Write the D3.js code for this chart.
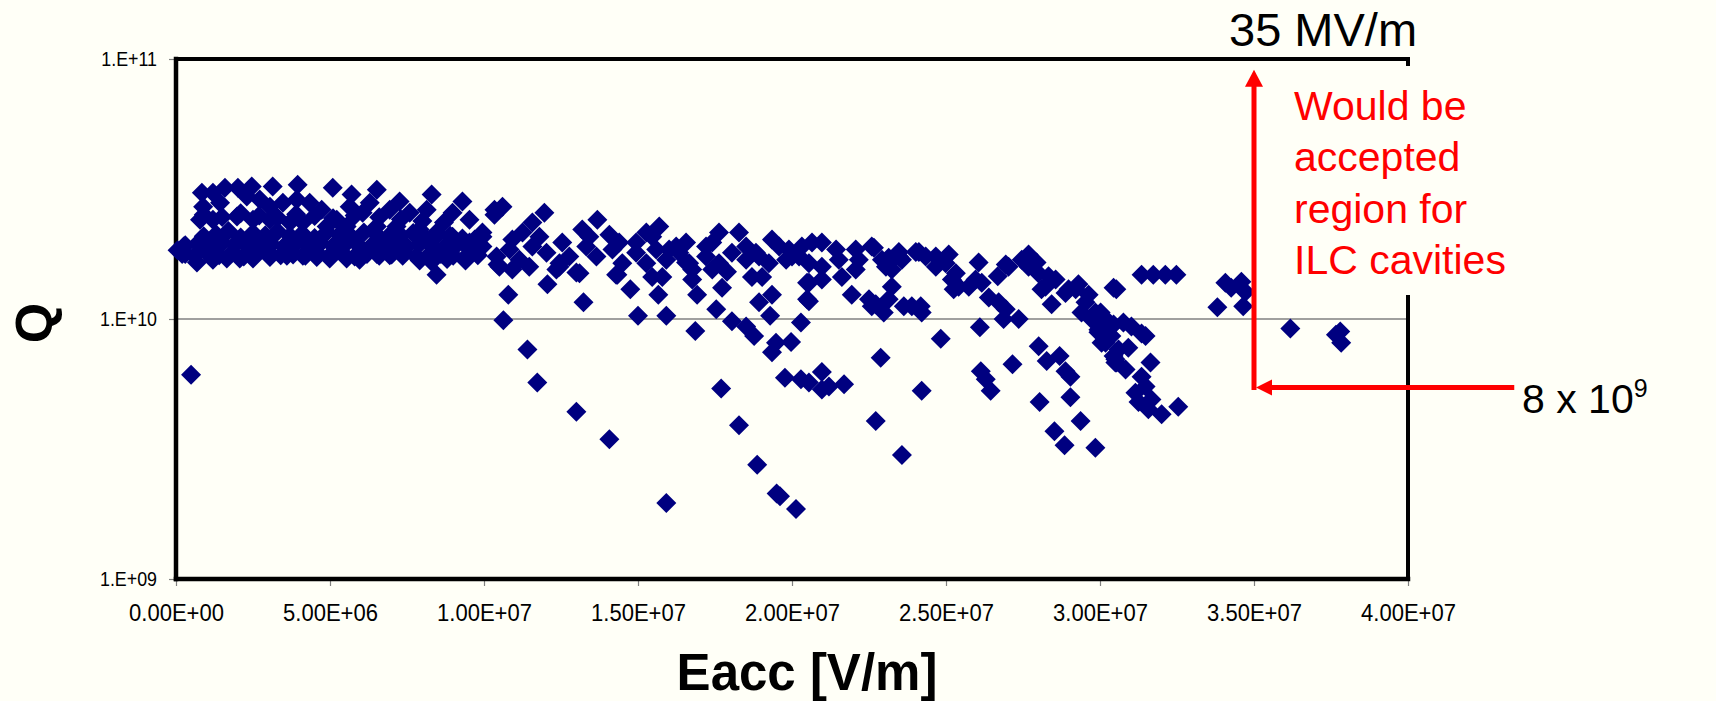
<!DOCTYPE html>
<html><head><meta charset="utf-8">
<script src="https://cdn.jsdelivr.net/npm/d3@7"></script>
<style>html,body{margin:0;padding:0;background:#fffff7;}svg{display:block;}</style>
</head><body>
<svg id="chart" width="1716" height="701"></svg>
<script>
// ---------- DATA ----------
// Axis ticks
const xTicks = [0, 5e6, 1e7, 1.5e7, 2e7, 2.5e7, 3e7, 3.5e7, 4e7];
const xTickLabels = ["0.00E+00","5.00E+06","1.00E+07","1.50E+07","2.00E+07","2.50E+07","3.00E+07","3.50E+07","4.00E+07"];
const yTicks = [1e9, 1e10, 1e11];
const yTickLabels = ["1.E+09","1.E+10","1.E+11"];

// Measured points: [Eacc in MV/m, Q in units of 1e10]
const fieldBelow10 = [
 [0.05,1.84],[0.25,1.90],[0.3,1.78],[0.49,0.61],
 [0.84,3.06],[1.20,3.06],[1.59,3.20],[2.01,3.20],[2.46,3.23],[3.14,3.23],[3.95,3.28],[5.09,3.20],[5.70,3.01],[6.52,3.14],[7.26,2.83],[8.30,3.01],[9.30,2.83],[10.34,2.63],
 [0.88,2.70],[1.43,2.80],[2.30,2.96],[2.72,2.88],[3.05,2.70],[3.47,2.80],[3.92,2.88],[4.34,2.80],[4.73,2.63],[5.22,2.41],[5.64,2.70],[6.06,2.56],[6.29,2.80],[6.94,2.63],[7.59,2.56],[8.14,2.63],[8.98,2.56],[9.53,2.41],[9.95,2.15],
 [0.78,2.41],[1.20,2.41],[1.98,2.48],[2.50,2.41],[3.05,2.41],[3.70,2.35],[4.12,2.35],[4.89,2.27],[5.54,2.27],[6.52,2.27],[7.16,2.27],[7.91,2.21],[8.46,2.15],[8.98,2.07],[9.53,1.97],
 [0.9,2.52],[1.5,2.47],[2.1,2.55],[2.7,2.50],[3.3,2.45],[3.9,2.53],[4.5,2.49],[5.1,2.44],[5.8,2.50],[6.6,2.46],[7.3,2.42],[8.0,2.38],[8.7,2.35],
 [0.9,2.08],[1.3,2.12],[1.7,2.18],[2.1,2.06],[2.5,2.14],[2.9,2.10],[3.3,2.17],[3.7,2.09],[4.1,2.13],[4.5,2.05],[4.9,2.16],[5.3,2.11],[5.7,2.07],[6.1,2.15],[6.5,2.12],[6.9,2.08],[7.3,2.10],[7.7,2.14],[8.1,2.06],[8.5,2.11],[8.9,2.09],[9.3,2.04],[9.7,2.02],
 [0.3,1.92],[0.7,1.95],[1.1,1.90],[1.5,1.96],[1.9,1.93],[2.3,1.91],[2.7,1.97],[3.1,1.94],[3.5,1.90],[3.9,1.95],[4.3,1.92],[4.7,1.96],[5.1,1.91],[5.5,1.94],[5.9,1.93],[6.3,1.89],[6.7,1.95],[7.1,1.92],[7.5,1.90],[7.9,1.94],[8.3,1.91],[8.7,1.88],[9.1,1.92],[9.5,1.87],[9.9,1.90],
 [0.2,1.78],[0.6,1.75],[1.0,1.80],[1.4,1.76],[1.8,1.79],[2.2,1.74],[2.6,1.78],[3.0,1.81],[3.4,1.76],[3.8,1.77],[4.2,1.75],[4.6,1.79],[5.0,1.76],[5.4,1.80],[5.8,1.74],[6.2,1.78],[6.6,1.75],[7.0,1.77],[7.4,1.79],[7.8,1.74],[8.2,1.76],[8.6,1.78],[9.0,1.75],[9.4,1.73],[9.8,1.76],
 [0.68,1.65],[1.2,1.69],[1.65,1.71],[2.07,1.71],[2.5,1.71],[3.05,1.73],[3.6,1.75],[4.12,1.75],[4.57,1.73],[4.99,1.71],[5.54,1.71],[5.96,1.69],[6.52,1.78],[6.94,1.76],[7.36,1.75],[7.91,1.68],[8.3,1.66],[8.8,1.70],[9.4,1.68],
 [8.46,1.48]
];

const field10to20 = [
 [10.79,1.24],[10.63,0.99],[11.41,0.764],[11.73,0.57],[12.06,1.36],[13.0,0.44],[13.23,1.16],[14.07,0.345],[14.75,1.30],[15.0,1.03],
 [15.66,1.24],[15.92,1.03],[15.92,0.196],[16.86,0.90],[17.70,0.54],[18.28,0.39],[18.87,0.275],[19.61,0.208],[19.5,0.213],[20.13,0.186],
 [17.54,1.09],[17.73,1.32],[16.92,1.24],[16.76,1.42],[18.05,0.98],[18.51,0.935],[18.77,0.86],[18.93,1.16],[19.35,1.24],[19.29,1.03],
 [19.35,0.745],[19.48,0.81],[19.97,0.815],[20.29,0.97],[19.77,0.595],[20.29,0.586],[20.49,1.38],[20.49,1.19],[14.33,1.48],[13.1,1.5],
 [12.45,1.59],[10.44,1.62],[10.92,1.55],[17.41,1.55],[17.89,1.52],[15.46,1.45],[16.56,1.65],
 [10.60,2.70],[10.34,2.52],[11.96,2.56],[11.57,2.35],[11.25,2.15],[13.68,2.41],[13.19,2.21],[14.07,2.11],[15.69,2.27],[15.27,2.15],
 [14.94,1.97],[17.63,2.15],[18.28,2.15],[17.21,1.90],[16.56,1.97],[16.01,1.85],[19.35,2.02],[18.83,1.80],[19.90,1.85],[20.32,1.90],
 [9.95,1.90],[10.41,1.74],[10.83,1.85],[11.15,1.69],[11.57,1.90],[12.03,1.80],[12.45,1.64],[12.77,1.74],[13.32,1.90],[13.65,1.74],
 [14.17,1.85],[14.49,1.64],[14.94,1.80],[15.27,1.64],[15.59,1.85],[15.92,1.69],[16.34,1.80],[16.66,1.64],[17.21,1.74],[17.63,1.64],
 [18.05,1.80],[18.51,1.69],[18.93,1.74],[19.25,1.64],[19.81,1.69],[20.23,1.74],
 [9.95,2.07],[10.92,2.02],[11.80,2.07],[12.54,1.97],[13.42,2.07],[14.39,1.97],[15.46,2.07],[16.24,1.90],[17.41,1.97],[18.51,1.90],[19.58,1.90],
 [10.50,1.59],[11.47,1.59],[12.35,1.55],[13.0,1.51],[14.29,1.48],[15.79,1.45],[16.76,1.55],[18.70,1.45],[19.03,1.45]
];

const field20to30 = [
 [20.55,0.57],[20.97,0.625],[20.97,0.536],[21.20,0.55],[21.69,0.561],[22.72,0.405],[23.57,0.30],[22.88,0.71],[24.21,0.53],[24.83,0.84],
 [26.10,0.93],[26.13,0.63],[26.29,0.586],[26.45,0.53],[27.16,0.67],[28.01,0.785],[28.27,0.69],[28.69,0.72],[29.04,0.60],[28.88,0.63],
 [29.04,0.50],[28.04,0.48],[29.37,0.405],[28.52,0.37],[28.85,0.327],[29.85,0.32],
 [21.94,1.24],[20.55,1.17],[22.72,1.14],[22.98,1.06],[23.14,1.19],[23.63,1.12],[23.89,1.12],[24.18,1.12],[24.21,1.06],[23.24,1.33],
 [22.59,1.12],[22.50,1.19],[22.66,1.88],[20.55,1.38],[20.97,1.42],[21.62,1.45],[22.07,1.55],[22.92,1.69],[23.47,1.74],[25.09,1.77],
 [25.25,1.30],[25.41,1.33],[26.06,1.65],[26.16,1.38],[26.39,1.21],[26.71,1.16],[26.94,1.09],[26.87,1.0],[27.36,1.0],[26.68,1.46],
 [27.03,1.59],[27.68,1.77],[27.94,1.65],[28.33,1.46],[28.23,1.33],[28.43,1.14],[29.30,1.36],[29.63,1.24],[29.40,1.06],[29.85,1.06],
 [29.95,0.91],[30.28,0.86],[30.05,0.81],[30.44,0.72],[30.54,0.68],[30.44,1.32],[30.44,0.953],[28.88,1.26],
 [20.65,1.97],[20.97,1.97],[21.43,1.85],[22.07,1.85],[22.59,1.90],[23.37,1.74],[24.12,1.81],[24.34,1.74],[24.67,1.74],[24.99,1.64],
 [25.32,1.50],[20.0,1.74],[20.55,1.64],[20.97,1.59],[21.52,1.69],[22.17,1.69],[23.05,1.59],[23.24,1.55],[23.57,1.69],[24.67,1.59],
 [25.19,1.42],[25.74,1.33],[25.96,1.42],[27.68,1.59],[28.0,1.50],[28.10,1.30],[29.21,1.30],[29.53,1.16],[29.72,1.0],[30.05,0.935],
 [24.02,1.81],[26.94,1.62],[27.46,1.69],[28.56,1.42],[28.98,1.30],[30.18,1.0],[30.37,0.86],[30.5,0.70],[23.14,1.72],[23.47,1.81],
 [29.95,0.89]
];

const fieldAbove30 = [
 [31.35,1.48],[31.73,1.48],[32.12,1.48],[32.48,1.48],[30.53,1.30],[30.02,1.06],[30.37,0.935],[30.76,0.97],[31.02,0.935],[31.48,0.86],
 [30.18,0.81],[30.60,0.764],[30.92,0.776],[31.64,0.68],[30.50,0.68],[30.83,0.64],[31.35,0.60],[31.48,0.55],[31.15,0.52],[31.25,0.48],
 [31.57,0.45],[32.0,0.43],[32.54,0.46],[31.67,0.49],[31.35,0.88],
 [34.07,1.38],[34.59,1.39],[34.72,1.27],[34.26,1.32],[33.81,1.11],[34.65,1.12],
 [36.18,0.92],[37.80,0.895],[37.83,0.81],[37.66,0.87]
];

// Annotation values (data space)
const acceptE = 3.5e7;        // 35 MV/m
const arrowTopQ = 9.1e10;
const arrowCornerQ = 5.45e9;
const arrowRightE = 4.345e7;
const noteLines = ["Would be", "accepted", "region for", "ILC cavities"];

// ---------- DRAW ----------
const W = 1716, H = 701;
const M = {left: 176, right: 1408, top: 59, bottom: 579};
const font = "'Liberation Sans', Arial, Helvetica, sans-serif";
const svg = d3.select("#chart");

const x = d3.scaleLinear().domain([0, 4e7]).range([M.left, M.right]);
const y = d3.scaleLog().domain([1e9, 1e11]).range([M.bottom, M.top]);

const points = [...fieldBelow10, ...field10to20, ...field20to30, ...fieldAbove30]
  .map(([e, q]) => ({eacc: e * 1e6, q: q * 1e10}));

svg.append("rect").attr("width", W).attr("height", H).attr("fill", "#fffff7");

// gridline at 1e10
svg.append("line")
  .attr("x1", x(0)).attr("x2", x(4e7))
  .attr("y1", y(1e10)).attr("y2", y(1e10))
  .attr("stroke", "#808080").attr("stroke-width", 1.5);

// x axis
const gx = svg.append("g").attr("transform", `translate(0,${M.bottom})`)
  .call(d3.axisBottom(x).tickValues(xTicks).tickFormat((d, i) => xTickLabels[i]).tickSize(7).tickPadding(18));
gx.select(".domain").remove();
gx.selectAll(".tick line").attr("stroke", "#808080").attr("stroke-width", 1.2);
gx.selectAll(".tick text").attr("font-family", font).attr("font-size", 23.5).attr("fill", "#000")
  .attr("textLength", 95).attr("lengthAdjust", "spacingAndGlyphs");

// y axis (ticks from the axis, labels drawn horizontally compressed like the original)
const gy = svg.append("g").attr("transform", `translate(${M.left},0)`)
  .call(d3.axisLeft(y).tickValues(yTicks).tickFormat("").tickSize(7));
gy.select(".domain").remove();
gy.selectAll(".tick line").attr("stroke", "#808080").attr("stroke-width", 1.2);
svg.append("g").selectAll("g").data(yTicks).join("g")
  .attr("transform", d => `translate(${M.left - 19},${y(d)}) scale(0.85,1)`)
  .append("text")
  .attr("text-anchor", "end").attr("dy", "0.35em")
  .attr("font-family", font).attr("font-size", 21).attr("fill", "#000")
  .text((d, i) => yTickLabels[i]);

// plot frame
const frame = svg.append("g").attr("stroke", "#000").attr("stroke-linecap", "square");
frame.append("line").attr("x1", M.left).attr("x2", M.right).attr("y1", M.top).attr("y2", M.top).attr("stroke-width", 4);
frame.append("line").attr("x1", M.right).attr("x2", M.right).attr("y1", M.top).attr("y2", M.bottom).attr("stroke-width", 4);
frame.append("line").attr("x1", M.left).attr("x2", M.left).attr("y1", M.top).attr("y2", M.bottom).attr("stroke-width", 4.5);
frame.append("line").attr("x1", M.left).attr("x2", M.right).attr("y1", M.bottom).attr("y2", M.bottom).attr("stroke-width", 4.5);

// data markers (diamonds)
svg.append("g").selectAll("path").data(points).join("path")
  .attr("transform", d => `translate(${x(d.eacc)},${y(d.q)})`)
  .attr("d", "M0,-10L10,0L0,10L-10,0Z")
  .attr("fill", "#000080");

// annotation box (covers part of right frame)
svg.append("rect").attr("x", 1276).attr("y", 66).attr("width", 290).attr("height", 229).attr("fill", "#fffff7");

const noteText = svg.append("text").attr("font-family", font).attr("font-size", 41).attr("fill", "#ff0000");
noteLines.forEach((t, i) => {
  noteText.append("tspan").attr("x", 1294).attr("y", 120 + i * 51.3).text(t);
});

svg.append("text").attr("x", 1229).attr("y", 46).attr("font-family", font).attr("font-size", 47)
  .attr("fill", "#000").text("35 MV/m");

const eightText = svg.append("text").attr("x", 1522).attr("y", 413).attr("font-family", font)
  .attr("font-size", 41).attr("fill", "#000");
eightText.append("tspan").text("8 x 10");
eightText.append("tspan").attr("font-size", 25).attr("dy", -16).text("9");

// arrows
const ax = x(acceptE), ayTop = y(arrowTopQ), ayCorner = y(arrowCornerQ), axRight = x(arrowRightE);
const red = "#ff0000";
svg.append("line").attr("x1", ax).attr("x2", ax).attr("y1", ayTop + 12).attr("y2", ayCorner + 2.5)
  .attr("stroke", red).attr("stroke-width", 5);
svg.append("path").attr("d", `M${ax},${ayTop}L${ax - 9},${ayTop + 17}L${ax + 9},${ayTop + 17}Z`).attr("fill", red);
svg.append("line").attr("x1", axRight).attr("x2", ax + 12).attr("y1", ayCorner).attr("y2", ayCorner)
  .attr("stroke", red).attr("stroke-width", 5);
svg.append("path").attr("d", `M${ax + 2},${ayCorner}L${ax + 18},${ayCorner - 8}L${ax + 18},${ayCorner + 8}Z`).attr("fill", red);

// axis titles
svg.append("text").attr("x", 807).attr("y", 690).attr("text-anchor", "middle")
  .attr("font-family", font).attr("font-weight", "bold").attr("font-size", 51).attr("fill", "#000")
  .text("Eacc [V/m]");
svg.append("text").attr("transform", "translate(52,323) rotate(-90)").attr("text-anchor", "middle")
  .attr("font-family", font).attr("font-weight", "bold").attr("font-size", 52).attr("fill", "#000")
  .text("Q");
</script>
</body></html>
